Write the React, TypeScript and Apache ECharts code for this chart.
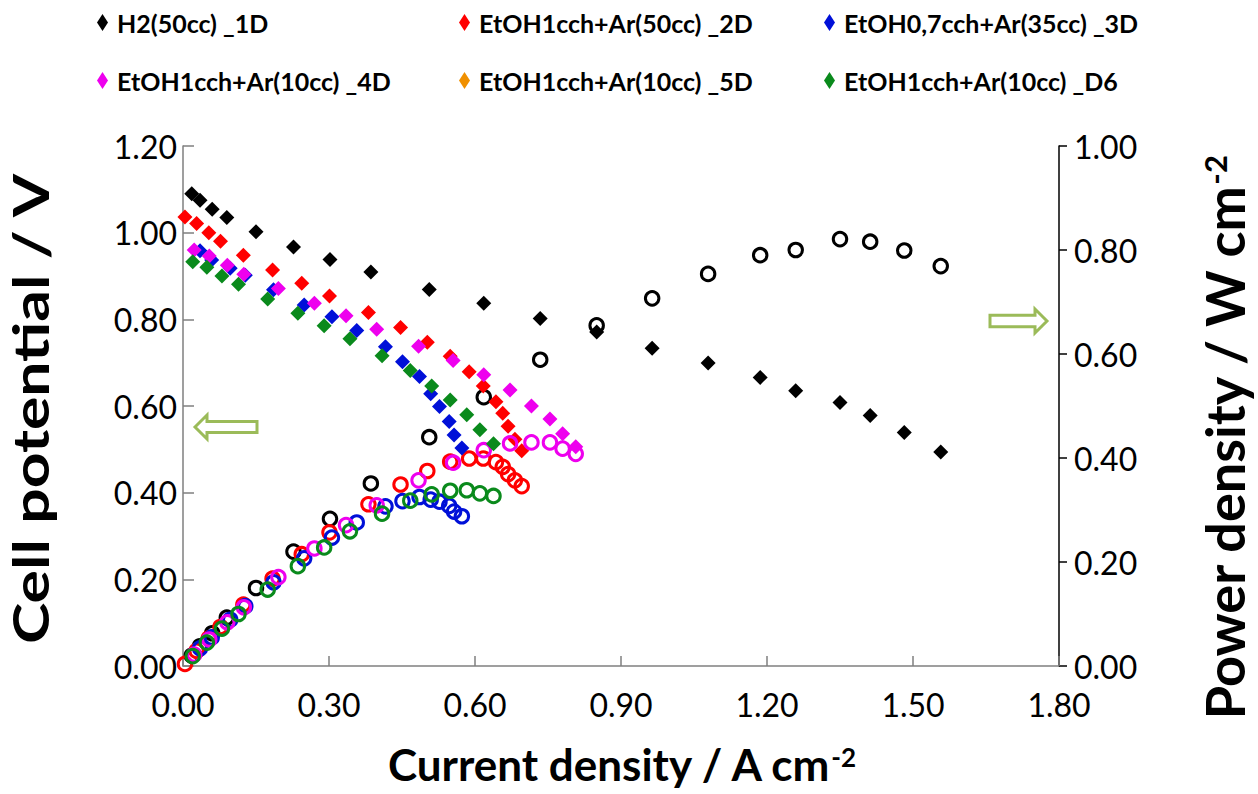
import React, { useEffect, useRef } from "react";
import * as echarts from "echarts";

// ---- Data ----
const seriesNames = [
  "H2(50cc) _1D",
  "EtOH1cch+Ar(50cc) _2D",
  "EtOH0,7cch+Ar(35cc) _3D",
  "EtOH1cch+Ar(10cc) _4D",
  "EtOH1cch+Ar(10cc) _5D",
  "EtOH1cch+Ar(10cc) _D6",
];
const seriesColors = ["#000000", "#ff0000", "#0010d8", "#ee00ee", "#f09000", "#0a8a1c"];

// 1D  H2(50cc)
const current1D = [0.018, 0.035, 0.060, 0.090, 0.150, 0.227, 0.302, 0.386, 0.506, 0.618, 0.734, 0.850, 0.964, 1.079, 1.186, 1.259, 1.350, 1.412, 1.482, 1.557];
const voltage1D = [1.090, 1.075, 1.054, 1.035, 1.002, 0.967, 0.938, 0.909, 0.869, 0.837, 0.802, 0.771, 0.733, 0.699, 0.666, 0.635, 0.608, 0.578, 0.539, 0.494];
const power1D = [0.020, 0.038, 0.063, 0.093, 0.150, 0.220, 0.283, 0.351, 0.440, 0.517, 0.589, 0.655, 0.707, 0.754, 0.790, 0.800, 0.821, 0.816, 0.799, 0.769];

// 2D  EtOH1cch+Ar(50cc)
const current2D = [0.004, 0.028, 0.053, 0.077, 0.124, 0.184, 0.244, 0.301, 0.381, 0.447, 0.502, 0.549, 0.588, 0.617, 0.643, 0.657, 0.668, 0.682, 0.696];
const voltage2D = [1.036, 1.021, 1.000, 0.980, 0.948, 0.914, 0.883, 0.854, 0.816, 0.781, 0.747, 0.715, 0.679, 0.646, 0.610, 0.583, 0.553, 0.523, 0.497];
const power2D = [0.004, 0.029, 0.053, 0.075, 0.118, 0.168, 0.215, 0.257, 0.311, 0.349, 0.375, 0.393, 0.399, 0.399, 0.392, 0.383, 0.369, 0.357, 0.346];

// 3D  EtOH0,7cch+Ar(35cc)
const current3D = [0.035, 0.059, 0.097, 0.128, 0.186, 0.249, 0.306, 0.357, 0.416, 0.451, 0.486, 0.509, 0.527, 0.547, 0.557, 0.573];
const voltage3D = [0.958, 0.937, 0.918, 0.902, 0.868, 0.833, 0.806, 0.774, 0.737, 0.702, 0.668, 0.628, 0.599, 0.564, 0.533, 0.503];
const power3D = [0.034, 0.055, 0.089, 0.115, 0.161, 0.207, 0.247, 0.276, 0.307, 0.317, 0.325, 0.320, 0.316, 0.308, 0.297, 0.288];

// 4D  EtOH1cch+Ar(10cc)
const current4D = [0.023, 0.054, 0.091, 0.125, 0.196, 0.270, 0.335, 0.398, 0.484, 0.555, 0.618, 0.672, 0.716, 0.754, 0.780, 0.807];
const voltage4D = [0.960, 0.946, 0.925, 0.904, 0.871, 0.837, 0.808, 0.777, 0.738, 0.705, 0.672, 0.637, 0.600, 0.570, 0.536, 0.506];
const power4D = [0.022, 0.051, 0.084, 0.113, 0.171, 0.226, 0.271, 0.309, 0.357, 0.391, 0.415, 0.428, 0.430, 0.430, 0.418, 0.408];

// 5D  EtOH1cch+Ar(10cc) (no visible points)
const current5D: number[] = [];
const voltage5D: number[] = [];
const power5D: number[] = [];

// D6  EtOH1cch+Ar(10cc)
const current6D = [0.020, 0.049, 0.080, 0.114, 0.174, 0.236, 0.290, 0.343, 0.409, 0.467, 0.511, 0.549, 0.583, 0.610, 0.638];
const voltage6D = [0.933, 0.920, 0.900, 0.881, 0.847, 0.814, 0.785, 0.755, 0.716, 0.682, 0.646, 0.614, 0.580, 0.545, 0.513];
const power6D = [0.019, 0.045, 0.072, 0.100, 0.147, 0.192, 0.228, 0.259, 0.293, 0.318, 0.330, 0.337, 0.338, 0.332, 0.327];

const currents = [current1D, current2D, current3D, current4D, current5D, current6D];
const voltages = [voltage1D, voltage2D, voltage3D, voltage4D, voltage5D, voltage6D];
const powers = [power1D, power2D, power3D, power4D, power5D, power6D];

const xTicks = { min: 0, max: 1.8, interval: 0.3 };
const yLeftTicks = { min: 0, max: 1.2, interval: 0.2 };
const yRightTicks = { min: 0, max: 1.0, interval: 0.2 };

const xTitle = "Current density / A cm";
const leftTitle = "Cell potential / V";
const rightTitle = "Power density / W cm";
const unitExponent = "-2";

const FONT = "Lato";
const AXIS_GRAY = "#7f7f7f";
const ARROW_GREEN = "#9bbb59";

function zip(xs: number[], ys: number[]) {
  return xs.map((x, i) => [x, ys[i]]);
}

export default function App() {
  const ref = useRef<HTMLDivElement>(null);

  useEffect(() => {
    if (!ref.current) return;
    const chart = echarts.init(ref.current, undefined, { renderer: "svg" });

    const series: any[] = [];
    seriesNames.forEach((name, i) => {
      series.push({
        name,
        type: "scatter",
        yAxisIndex: 0,
        symbol: "diamond",
        symbolSize: 15,
        itemStyle: { color: seriesColors[i], opacity: 1 },
        data: zip(currents[i], voltages[i]),
        z: 2,
      });
      series.push({
        name: name + " (power)",
        type: "scatter",
        yAxisIndex: 1,
        symbol: "circle",
        symbolSize: 13.5,
        itemStyle: { color: "rgba(0,0,0,0)", borderColor: seriesColors[i], borderWidth: 3, opacity: 1 },
        data: zip(currents[i], powers[i]),
        z: 2,
      });
    });

    const legendCols = [97, 459, 824];
    const legendRows = [10, 68];
    const legends = seriesNames.map((name, i) => ({
      data: [name],
      left: legendCols[i % 3],
      top: legendRows[Math.floor(i / 3)],
      icon: "diamond",
      itemWidth: 11,
      itemHeight: 17,
      padding: 0,
      selectedMode: false,
      textStyle: { fontFamily: FONT, fontWeight: "bold", fontSize: 25, color: "#000", padding: [0, 0, 0, 4] },
    }));

    const titleRich = (size: number, lh: number) => ({
      a: { fontFamily: FONT, fontWeight: "bold", fontSize: size, color: "#000", lineHeight: lh },
      s: { fontFamily: FONT, fontWeight: "bold", fontSize: Math.round(size * 0.58), color: "#000", verticalAlign: "top", lineHeight: Math.round(size * 0.7) },
    });

    const labelStyle = { fontFamily: FONT, fontSize: 32, color: "#000" };

    chart.setOption({
      animation: false,
      backgroundColor: "#ffffff",
      grid: { left: 183, right: 199, top: 146, bottom: 128, containLabel: false, outerBoundsMode: "none" },
      legend: legends,
      xAxis: {
        type: "value",
        ...xTicks,
        axisLine: { show: true, lineStyle: { color: AXIS_GRAY, width: 1.5 } },
        axisTick: { show: true, inside: true, length: 10, lineStyle: { color: AXIS_GRAY, width: 1.5 } },
        axisLabel: { ...labelStyle, margin: 22, formatter: (v: number) => v.toFixed(2) },
        splitLine: { show: false },
        name: `{a|${xTitle}}{s|${unitExponent}}`,
        nameLocation: "middle",
        nameGap: 78,
        nameTextStyle: { rich: titleRich(44, 40) },
      },
      yAxis: [
        {
          type: "value",
          position: "left",
          ...yLeftTicks,
          axisLine: { show: true, lineStyle: { color: AXIS_GRAY, width: 1.5 } },
          axisTick: { show: true, inside: true, length: 11, lineStyle: { color: AXIS_GRAY, width: 1.5 } },
          axisLabel: { ...labelStyle, margin: 6, formatter: (v: number) => v.toFixed(2) },
          splitLine: { show: false },
        },
        {
          type: "value",
          position: "right",
          ...yRightTicks,
          axisLine: { show: true, lineStyle: { color: "#000", width: 1.5 } },
          axisTick: { show: true, inside: false, length: 8, lineStyle: { color: "#000", width: 1.5 } },
          axisLabel: { ...labelStyle, margin: 15, formatter: (v: number) => v.toFixed(2) },
          splitLine: { show: false },
          name: `{a|${rightTitle}}{s|${unitExponent}}`,
          nameLocation: "middle",
          nameRotate: 90,
          nameGap: 140,
          nameTextStyle: { rich: titleRich(54, 50), padding: [0, 64, 0, 0] },
        },
      ],
      graphic: [
        {
          type: "text",
          x: 30,
          y: 409,
          rotation: Math.PI / 2,
          scaleX: 1.25,
          style: {
            text: leftTitle,
            fontFamily: FONT,
            fontWeight: "bold",
            fontSize: 50,
            fill: "#000",
            align: "center",
            verticalAlign: "middle",
          },
        },
        {
          type: "polygon",
          shape: {
            points: [
              [195, 427], [207, 415], [207, 421.5], [257, 421.5], [257, 432.5], [207, 432.5], [207, 439],
            ],
          },
          style: { fill: "#ffffff", stroke: ARROW_GREEN, lineWidth: 3, lineJoin: "miter" },
          z: 10,
        },
        {
          type: "polygon",
          shape: {
            points: [
              [1047, 321], [1035, 309], [1035, 315.2], [990, 315.2], [990, 326.8], [1035, 326.8], [1035, 333],
            ],
          },
          style: { fill: "#ffffff", stroke: ARROW_GREEN, lineWidth: 3, lineJoin: "miter" },
          z: 10,
        },
      ],
      series,
    });

    return () => chart.dispose();
  }, []);

  return (
    <div
      ref={ref}
      style={{ position: "fixed", left: 0, top: 0, width: 1258, height: 794, background: "#fff" }}
    />
  );
}
